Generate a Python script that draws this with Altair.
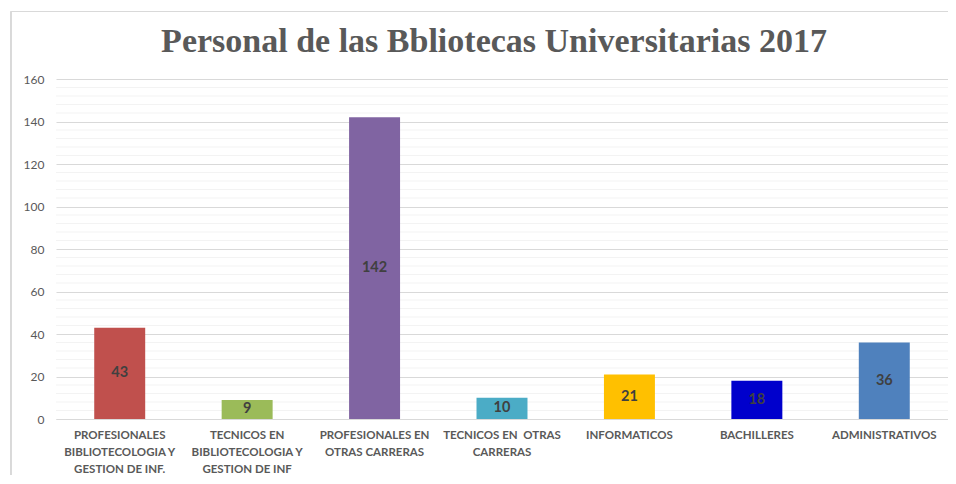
import altair as alt
import pandas as pd

categories = [
    "PROFESIONALES\nBIBLIOTECOLOGIA Y\nGESTION DE INF.",
    "TECNICOS EN\nBIBLIOTECOLOGIA Y\nGESTION DE INF",
    "PROFESIONALES EN\nOTRAS CARRERAS",
    "TECNICOS EN\u00a0 OTRAS\nCARRERAS",
    "INFORMATICOS",
    "BACHILLERES",
    "ADMINISTRATIVOS",
]
values = [43, 9, 142, 10, 21, 18, 36]
colors = ["#C0504D", "#9BBB59", "#8064A2", "#4BACC6", "#FFC000", "#0000CC", "#4F81BD"]
major_ticks = [0, 20, 40, 60, 80, 100, 120, 140, 160]
minor_ticks = [v for v in range(4, 160, 4) if v % 20 != 0]

df = pd.DataFrame({"cat": categories, "val": values, "color": colors})
df["mid"] = df["val"] / 2
minor_df = pd.DataFrame({"v": minor_ticks})

GRAY = "#595959"

x_enc = alt.X(
    "cat:N",
    sort=categories,
    scale=alt.Scale(paddingInner=0.6, paddingOuter=0.3),
    axis=alt.Axis(
        title=None,
        labelAngle=0,
        labelExpr="split(datum.label, '\\n')",
        labelFont="Lato",
        labelFontWeight="bold",
        labelFontSize=11.5,
        labelColor=GRAY,
        labelLineHeight=17,
        labelPadding=10,
        labelLimit=300,
        labelBaseline="top",
        domainColor="#d9d9d9",
        domainWidth=1,
        ticks=False,
    ),
)

y_scale = alt.Scale(domain=[0, 160], nice=False)
y_axis = alt.Axis(
    title=None,
    values=major_ticks,
    grid=True,
    gridColor="#d9d9d9",
    domain=False,
    ticks=False,
    labelFont="Lato",
    labelFontSize=12,
    labelColor=GRAY,
    labelPadding=12,
)

minor = alt.Chart(minor_df).mark_rule(color="#f3f3f3", strokeWidth=1).encode(
    y=alt.Y("v:Q", scale=y_scale, axis=y_axis)
)

bars = alt.Chart(df).mark_bar().encode(
    x=x_enc,
    y=alt.Y("val:Q", scale=y_scale, axis=y_axis),
    color=alt.Color("color:N", scale=None),
)

labels = alt.Chart(df).mark_text(
    font="Lato", fontWeight="bold", fontSize=14.5, color="#404040", baseline="middle"
).encode(
    x=alt.X("cat:N", sort=categories),
    y=alt.Y("mid:Q", scale=y_scale),
    text=alt.Text("val:Q"),
)

frame_left = alt.Chart(df).mark_rule(color="#d9d9d9").encode(
    x=alt.value(-45), y=alt.value(-67.5), y2=alt.value(420)
)
frame_top = alt.Chart(df).mark_rule(color="#d9d9d9").encode(
    x=alt.value(-45), x2=alt.value(900), y=alt.value(-67.5)
)

chart = (
    alt.layer(minor, bars, labels, frame_left, frame_top)
    .properties(
        width=892,
        height=340,
        title=alt.TitleParams(
            "Personal de las Bbliotecas Universitarias 2017",
            font="Liberation Serif",
            fontSize=34,
            fontWeight="bold",
            color=GRAY,
            anchor="middle",
            baseline="alphabetic",
            offset=-75,
            dx=-8,
        ),
        autosize=alt.AutoSizeParams(type="none"),
        padding={"left": 48, "top": 71, "right": 0, "bottom": 56},
    )
    .configure_view(stroke=None)
)

chart.save("out.html", embed_options={"renderer": "svg", "actions": False})
